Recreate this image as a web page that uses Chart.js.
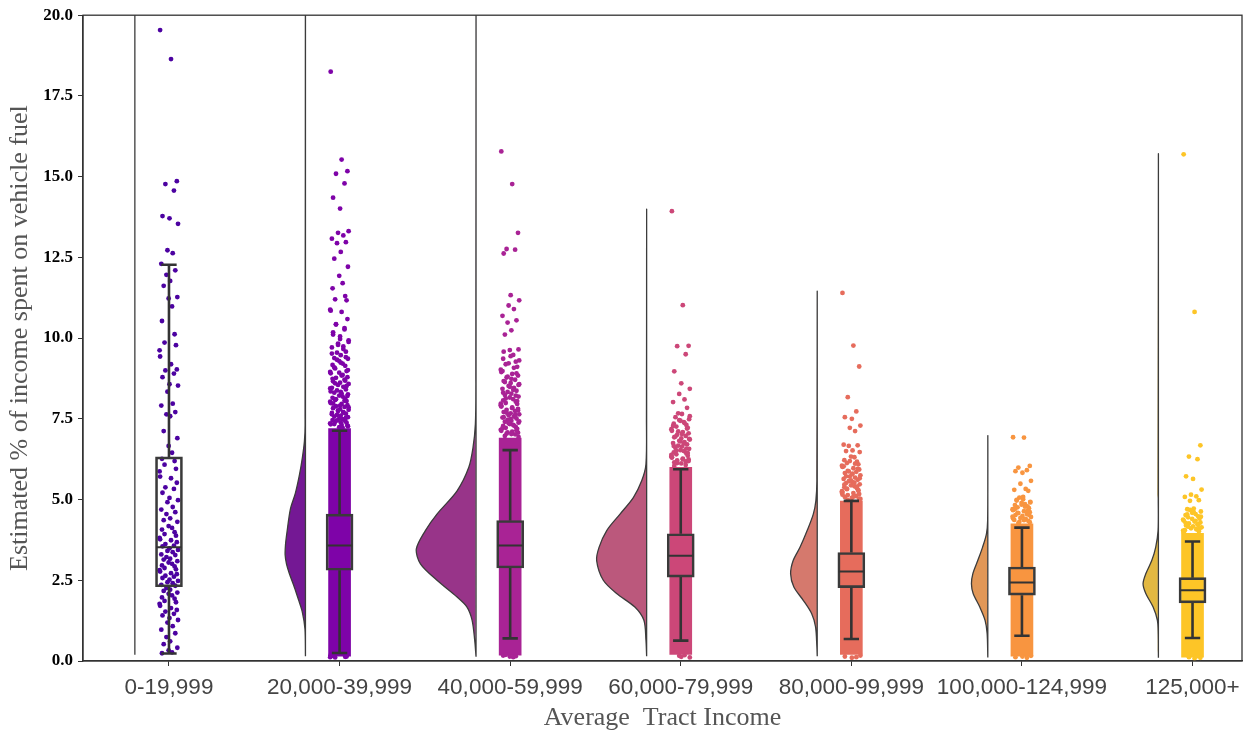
<!DOCTYPE html>
<html lang="en">
<head>
<meta charset="UTF-8">
<title>Fuel spending by tract income</title>
<script src="https://cdn.jsdelivr.net/npm/chart.js"></script>
<style>
  body { margin: 0; background: #fff; }
  canvas { display: block; }
</style>
</head>
<body>
<canvas id="fuelChart" width="1250" height="736"></canvas>
<script>
const CATEGORIES = ['0-19,999', '20,000-39,999', '40,000-59,999', '60,000-79,999', '80,000-99,999', '100,000-124,999', '125,000+'];
const Y_TICKS = [0, 2.5, 5, 7.5, 10, 12.5, 15, 17.5, 20];

// box plot stats
const Q1 = [2.30, 2.81, 2.88, 2.60, 2.27, 2.04, 1.80];
const MEDIAN = [3.52, 3.58, 3.58, 3.26, 2.77, 2.43, 2.19];
const Q3 = [6.32, 4.55, 4.35, 3.94, 3.36, 2.91, 2.58];
const WHISKER_LO = [0.23, 0.25, 0.70, 0.63, 0.68, 0.78, 0.71];
const WHISKER_HI = [12.27, 7.13, 6.53, 5.94, 4.96, 4.13, 3.70];

// range where the strip is so dense it reads as a solid column
const DENSE_LO = [null, 0.15, 0.18, 0.20, 0.20, 0.15, 0.12];
const DENSE_HI = [null, 7.20, 6.90, 6.00, 4.95, 4.25, 3.95];

// half violins: [value, width in category units]
const VIOLIN_0 = [[0.19, 0], [25, 0]];
const VIOLIN_1 = [[0.15, 0], [1.0, 0.003], [1.53, 0.019], [1.9, 0.041], [2.27, 0.064], [2.7, 0.094], [3.0, 0.111], [3.28, 0.119], [3.6, 0.117], [4.0, 0.108], [4.71, 0.088], [5.2, 0.059], [5.77, 0.035], [6.3, 0.018], [6.8, 0.006], [7.3, 0.002], [25, 0]];
const VIOLIN_2 = [[0.13, 0], [0.65, 0.008], [1.26, 0.023], [1.67, 0.053], [1.98, 0.111], [2.5, 0.229], [3.01, 0.326], [3.47, 0.35], [4.04, 0.297], [4.55, 0.229], [5.27, 0.111], [5.99, 0.043], [6.6, 0.018], [7.33, 0.004], [8.5, 0.001], [25, 0]];
const VIOLIN_3 = [[0.15, 0], [0.65, 0.004], [1.26, 0.016], [1.67, 0.069], [2.09, 0.176], [2.5, 0.254], [3.11, 0.293], [3.52, 0.279], [4.04, 0.234], [4.55, 0.156], [5.06, 0.078], [5.58, 0.029], [6.09, 0.004], [7.5, 0.001], [13.93, 0]];
const VIOLIN_4 = [[0.15, 0], [0.44, 0.002], [1.06, 0.01], [1.47, 0.033], [1.88, 0.082], [2.29, 0.137], [2.7, 0.156], [3.11, 0.141], [3.52, 0.101], [4.04, 0.059], [4.55, 0.023], [4.96, 0.008], [5.58, 0.002], [11.41, 0]];
const VIOLIN_5 = [[0.11, 0], [0.85, 0.004], [1.26, 0.016], [1.67, 0.047], [2.09, 0.086], [2.39, 0.096], [2.7, 0.088], [3.11, 0.059], [3.52, 0.031], [3.94, 0.008], [4.35, 0.001], [6.94, 0]];
const VIOLIN_6 = [[0.1, 0], [0.85, 0.001], [1.26, 0.006], [1.67, 0.031], [2.09, 0.074], [2.39, 0.09], [2.7, 0.074], [3.11, 0.039], [3.52, 0.016], [4.04, 0.002], [5.0, 0.001], [15.68, 0]];

// individual points (sparse tails + ragged edge of the dense column)
const PTS_0 = [19.54, 18.64, 14.86, 14.77, 14.57, 13.78, 13.71, 13.54, 12.72, 12.63, 12.30, 12.10, 11.96, 11.77, 11.62, 11.27, 11.23, 10.98, 10.53, 10.12, 9.86, 9.78, 9.62, 9.43, 9.19, 9.03, 9.00, 8.90, 8.79, 8.57, 8.53, 8.34, 7.97, 7.91, 7.71, 7.64, 7.58, 7.12, 6.90, 6.66, 6.45,
  6.26, 6.19, 6.08, 5.95, 5.87, 5.71, 5.66, 5.52, 5.38, 5.33, 5.21, 5.05, 4.98, 4.92, 4.77, 4.69, 4.61, 4.55, 4.42, 4.36, 4.31, 4.18, 4.12, 4.07, 3.99, 3.93, 3.88, 3.81, 3.77, 3.74, 3.68, 3.62, 3.57, 3.55, 3.49, 3.44, 3.41, 3.37, 3.30, 3.28, 3.22, 3.17, 3.14, 3.09, 3.05, 3.01, 2.96, 2.93, 2.88, 2.84, 2.81, 2.77, 2.72, 2.69, 2.64, 2.61, 2.57, 2.52, 2.48, 2.44, 2.41, 2.36, 2.33,
  2.26, 2.21, 2.17, 2.12, 2.08, 2.03, 1.97, 1.93, 1.86, 1.82, 1.77, 1.71, 1.64, 1.58, 1.53, 1.46, 1.41, 1.33, 1.27, 1.19, 1.08, 0.97, 0.86, 0.74, 0.61, 0.52, 0.41, 0.33, 0.27, 0.24];
const PTS_1 = [18.25, 15.53, 15.17, 15.09, 14.79, 14.35, 14.01, 13.31, 13.26, 13.18, 13.08, 12.97, 12.94, 12.67, 12.46, 12.21, 11.93, 11.70, 11.54, 11.30, 11.20, 11.17, 10.88, 10.85, 10.81, 10.59, 10.43, 10.27, 10.11, 9.97, 9.88,
  9.83, 9.74, 9.71, 9.58, 9.55, 9.47, 9.38, 9.36, 9.29, 9.21, 9.17, 9.14, 9.06, 8.98, 8.95, 8.91, 8.84, 8.79, 8.77, 8.71, 8.66, 8.62, 8.58, 8.55, 8.49, 8.46, 8.41, 8.38, 8.33, 8.31, 8.26, 8.22, 8.19, 8.15, 8.12, 8.08, 8.05, 8.03, 7.99, 7.96, 7.92, 7.89, 7.87, 7.83, 7.80, 7.78, 7.74, 7.71, 7.68, 7.66, 7.62, 7.60, 7.57, 7.55, 7.51, 7.49, 7.46, 7.43, 7.41, 7.38, 7.36, 7.33, 7.31, 7.29,
  10.42, 10.31, 10.18, 10.05, 9.93, 9.79, 9.66, 9.52, 9.41, 9.33, 9.24, 9.09, 9.01, 8.93, 8.86, 8.74, 8.68, 8.60, 8.52, 8.44, 8.35, 8.28, 8.21, 8.11, 8.06, 7.97, 7.91, 7.85, 7.76, 7.69, 7.64, 7.53, 7.45, 7.39, 7.34, 7.27, 7.24, 7.22,
  0.16, 0.13, 0.11, 0.14, 0.12, 0.18];
const PTS_2 = [15.78, 14.77, 13.26, 12.76, 12.74, 12.62, 11.33, 11.17, 11.01, 10.90, 10.69, 10.55, 10.48, 10.24, 10.11, 9.65, 9.63, 9.48, 9.36, 9.27, 9.19, 9.11, 9.02, 8.95,
  8.89, 8.84, 8.78, 8.71, 8.67, 8.61, 8.57, 8.52, 8.46, 8.43, 8.37, 8.33, 8.28, 8.24, 8.19, 8.16, 8.11, 8.07, 8.03, 7.99, 7.96, 7.92, 7.88, 7.85, 7.81, 7.78, 7.74, 7.71, 7.67, 7.64, 7.61, 7.57, 7.54, 7.51, 7.47, 7.44, 7.41, 7.38, 7.34, 7.31, 7.28, 7.25, 7.22, 7.19, 7.16, 7.13, 7.10, 7.07, 7.04, 7.02,
  9.58, 9.44, 9.31, 9.22, 9.08, 8.98, 8.91, 8.81, 8.74, 8.64, 8.55, 8.49, 8.40, 8.31, 8.22, 8.13, 8.05, 7.97, 7.90, 7.83, 7.76, 7.69, 7.62, 7.55, 7.49, 7.42, 7.36, 7.29, 7.21, 7.15, 7.08, 7.03, 6.97, 6.94,
  0.14, 0.12, 0.17, 0.15, 0.19];
const PTS_3 = [13.93, 11.02, 9.76, 9.75, 9.50, 8.97, 8.60, 8.43, 8.27, 8.10, 8.02, 7.84, 7.67, 7.65,
  7.55, 7.49, 7.44, 7.40, 7.35, 7.31, 7.26, 7.22, 7.18, 7.13, 7.09, 7.05, 7.01, 6.97, 6.93, 6.89, 6.86, 6.82, 6.78, 6.75, 6.71, 6.67, 6.64, 6.60, 6.57, 6.53, 6.50, 6.46, 6.43, 6.40, 6.36, 6.33, 6.30, 6.27, 6.24, 6.21, 6.18, 6.15, 6.12,
  7.58, 7.46, 7.37, 7.28, 7.20, 7.11, 7.03, 6.95, 6.88, 6.80, 6.73, 6.66, 6.58, 6.51, 6.44, 6.38, 6.31, 6.25, 6.19, 6.13, 6.07, 6.04,
  0.13, 0.11, 0.16, 0.18];
const PTS_4 = [11.40, 9.77, 9.12, 8.17, 7.73, 7.55, 7.50, 7.29, 7.22, 7.12, 6.70, 6.68, 6.66, 6.52, 6.50, 6.47, 6.33, 6.31,
  6.22, 6.17, 6.13, 6.09, 6.05, 6.01, 5.97, 5.93, 5.89, 5.86, 5.82, 5.78, 5.75, 5.71, 5.68, 5.64, 5.61, 5.57, 5.54, 5.51, 5.47, 5.44, 5.41, 5.38, 5.35, 5.32, 5.29, 5.26, 5.23, 5.20, 5.17, 5.14, 5.11, 5.08, 5.05, 5.02,
  6.19, 6.11, 6.03, 5.95, 5.87, 5.80, 5.72, 5.66, 5.59, 5.52, 5.46, 5.40, 5.34, 5.27, 5.21, 5.15, 5.09, 5.03, 4.99,
  0.12, 0.14, 0.10, 0.17];
const PTS_5 = [6.93, 6.92, 6.04, 5.99, 5.91, 5.88, 5.83, 5.58, 5.49, 5.33, 5.30, 5.27, 5.06,
  5.01, 4.97, 4.93, 4.90, 4.86, 4.83, 4.79, 4.76, 4.73, 4.70, 4.67, 4.64, 4.61, 4.58, 4.55, 4.52, 4.49, 4.46, 4.43, 4.40, 4.37, 4.34, 4.31,
  5.08, 4.99, 4.91, 4.84, 4.78, 4.71, 4.65, 4.59, 4.53, 4.47, 4.41, 4.36, 4.30, 4.27,
  0.10, 0.12, 0.14, 0.16];
const PTS_6 = [15.69, 10.81, 6.68, 6.33, 6.25, 5.72, 5.64, 5.31, 5.15, 5.10, 5.08, 4.98, 4.96, 4.72, 4.70,
  4.63, 4.59, 4.55, 4.52, 4.48, 4.45, 4.41, 4.38, 4.35, 4.32, 4.29, 4.26, 4.23, 4.20, 4.17, 4.14, 4.11, 4.08, 4.05, 4.02,
  4.68, 4.61, 4.54, 4.47, 4.40, 4.34, 4.28, 4.22, 4.16, 4.10, 4.04, 3.99,
  0.08, 0.10, 0.12, 0.15];

const POINT_COLORS = ['#4c02a1', '#7e03a8', '#a92395', '#cc4778', '#e66c5c', '#f89540', '#fdc527'];
const VIOLIN_COLORS = ['#4d168d', '#741894', '#983489', '#bb587c', '#d5796d', '#e19757', '#e2b842'];

// layout constants (category units)
const VIOLIN_SHIFT = 0.2;
const MEDIAN_HALF = 0.074;
const CAP_HALF = 0.045;
const JITTER = [-0.052, 0.012, 0.046, -0.021, 0.029, -0.038, 0.003, 0.053, -0.009, 0.022, -0.045, 0.037, -0.015, 0.007, -0.031, 0.049, -0.002, 0.018, -0.041, 0.033, -0.026, 0.041, -0.055];

const VIOLINS = [VIOLIN_0, VIOLIN_1, VIOLIN_2, VIOLIN_3, VIOLIN_4, VIOLIN_5, VIOLIN_6];
const POINTS = [PTS_0, PTS_1, PTS_2, PTS_3, PTS_4, PTS_5, PTS_6];

const datasets = [];

// clouds
VIOLINS.forEach((prof, i) => {
  const edge = i - VIOLIN_SHIFT;
  const outline = prof.map(([y, w]) => ({x: edge - w, y: y}));
  outline.push({x: edge, y: prof[0][0]});
  datasets.push({
    type: 'line', data: outline, fill: 'shape',
    backgroundColor: VIOLIN_COLORS[i], borderColor: '#3c3c3c', borderWidth: 1.3,
    pointRadius: 0, tension: 0.3, order: 6
  });
});

// solid part of each strip
const coreData = [];
const coreColors = [];
CATEGORIES.forEach((_, i) => {
  if (DENSE_HI[i] !== null) {
    coreData.push({x: i, y: [DENSE_LO[i], DENSE_HI[i]]});
    coreColors.push(POINT_COLORS[i]);
  }
});
datasets.push({
  type: 'bar', data: coreData, backgroundColor: coreColors,
  barThickness: 22, grouped: false, borderWidth: 0, order: 5
});

// rain
POINTS.forEach((vals, i) => {
  datasets.push({
    type: 'scatter',
    data: vals.map((y, k) => ({x: i + JITTER[k % JITTER.length], y: y})),
    pointRadius: 2.4, pointBorderWidth: 0,
    backgroundColor: POINT_COLORS[i], borderColor: POINT_COLORS[i], order: 4
  });
});

// boxes
datasets.push({
  type: 'bar',
  data: CATEGORIES.map((_, i) => ({x: i, y: [Q1[i], Q3[i]]})),
  backgroundColor: 'rgba(255,255,255,0)', borderColor: '#3a3a3a', borderWidth: 2,
  borderSkipped: false, barThickness: 27, grouped: false, order: 3
});

// whiskers + caps, gaps between pieces
const whiskers = [];
const medians = [];
CATEGORIES.forEach((_, i) => {
  whiskers.push(
    {x: i, y: WHISKER_LO[i]}, {x: i, y: Q1[i]}, {x: i, y: null},
    {x: i, y: Q3[i]}, {x: i, y: WHISKER_HI[i]}, {x: i, y: null},
    {x: i - CAP_HALF, y: WHISKER_LO[i]}, {x: i + CAP_HALF, y: WHISKER_LO[i]}, {x: i, y: null},
    {x: i - CAP_HALF, y: WHISKER_HI[i]}, {x: i + CAP_HALF, y: WHISKER_HI[i]}, {x: i, y: null}
  );
  medians.push({x: i - MEDIAN_HALF, y: MEDIAN[i]}, {x: i + MEDIAN_HALF, y: MEDIAN[i]}, {x: i, y: null});
});
datasets.push({type: 'line', data: whiskers, borderColor: '#333', borderWidth: 2.6, pointRadius: 0, spanGaps: false, order: 2});
datasets.push({type: 'line', data: medians, borderColor: '#333', borderWidth: 2, pointRadius: 0, spanGaps: false, order: 1});

// box frame round the plot area
const frame = {
  id: 'frame',
  afterDraw(chart) {
    const {ctx, chartArea: a} = chart;
    ctx.save();
    ctx.strokeStyle = '#333';
    ctx.lineWidth = 1.3;
    ctx.strokeRect(a.left, a.top, a.right - a.left, a.bottom - a.top);
    ctx.restore();
  }
};

new Chart(document.getElementById('fuelChart'), {
  type: 'scatter',
  data: {datasets: datasets},
  plugins: [frame],
  options: {
    responsive: false,
    animation: false,
    layout: {padding: {top: 12, right: 8, bottom: 0, left: 0}},
    plugins: {legend: {display: false}, tooltip: {enabled: false}},
    scales: {
      x: {
        type: 'linear', min: -0.504, max: 6.29, offset: false,
        afterBuildTicks: s => { s.ticks = CATEGORIES.map((_, i) => ({value: i})); },
        afterFit: s => { s.height = 75; },
        ticks: {
          callback: v => CATEGORIES[v] ?? '',
          font: {family: 'Liberation Sans', size: 22.5}, color: '#444',
          padding: 8, maxRotation: 0, autoSkip: false
        },
        grid: {offset: false, drawOnChartArea: false, tickLength: 5, tickColor: '#333'},
        border: {color: '#333', width: 1.3},
        title: {
          display: true, text: 'Average  Tract Income',
          font: {family: 'Liberation Serif', size: 26}, color: '#555',
          padding: {top: 0, bottom: 2}
        }
      },
      y: {
        min: 0, max: 20,
        afterBuildTicks: s => { s.ticks = Y_TICKS.map(v => ({value: v})); },
        afterFit: s => { s.width = 83; },
        ticks: {
          callback: v => v.toFixed(1),
          font: {family: 'Liberation Serif', size: 17, weight: 'bold'}, color: '#000',
          padding: 5
        },
        grid: {drawOnChartArea: false, tickLength: 5, tickColor: '#333'},
        border: {color: '#333', width: 1.3},
        title: {
          display: true, text: 'Estimated % of income spent on vehicle fuel',
          font: {family: 'Liberation Serif', size: 26}, color: '#555',
          padding: {top: 5, bottom: 0}
        }
      }
    }
  }
});
</script>
</body>
</html>
